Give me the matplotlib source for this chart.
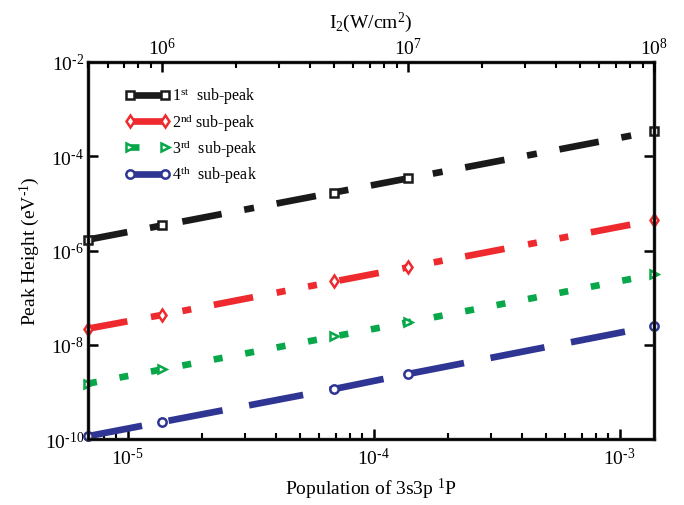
import numpy as np
import matplotlib
matplotlib.use("Agg")
import matplotlib.pyplot as plt

plt.rcParams['font.family'] = ['Liberation Serif', 'DejaVu Serif']
plt.rcParams['mathtext.fontset'] = 'custom'
plt.rcParams['mathtext.rm'] = 'Liberation Serif'
plt.rcParams['mathtext.it'] = 'Liberation Serif:italic'
plt.rcParams['lines.scale_dashes'] = False

# intensity I2 (W/cm^2) and matching population of 3s3p 1P
intensity = [5e5, 1e6, 5e6, 1e7, 1e8]
population = [6.9e-6, 1.38e-5, 6.9e-5, 1.38e-4, 1.38e-3]

peak_1st = [1.7e-6, 3.4e-6, 1.7e-5, 3.4e-5, 3.4e-4]
peak_2nd = [2.2e-8, 4.3e-8, 2.2e-7, 4.4e-7, 4.4e-6]
peak_3rd = [1.5e-9, 3.0e-9, 1.5e-8, 3.0e-8, 3.1e-7]
peak_4th = [1.15e-10, 2.3e-10, 1.15e-9, 2.4e-9, 2.5e-8]

labels = ['1$^{\\mathregular{st}}$  sub-peak', '2$^{\\mathregular{nd}}$ sub-peak',
          '3$^{\\mathregular{rd}}$  sub-peak', '4$^{\\mathregular{th}}$  sub-peak']


def pow10(k):
    # hyphen instead of the math minus, like the original figure
    return '10$^{\\mathregular{\\text{%s}}}$' % k


px = 0.72
fig = plt.figure(figsize=(6.84, 5.06), dpi=100)
ax = fig.add_axes([0.1287, 0.1304, 0.8275, 0.7451])

series = [
    (peak_1st, '#1a1a1a', 's', [40, 23, 10, 23]),
    (peak_2nd, '#ee2a2e', 'd', [40, 24, 9, 23, 9, 23]),
    (peak_3rd, '#08a84a', '>', [9, 23]),
    (peak_4th, '#2e3593', 'o', [55, 27]),
]
for (vals, col, mk, dash), lab in zip(series, labels):
    ax.plot(population, vals, color=col, lw=4.8, dashes=[d * px for d in dash],
            dash_capstyle='butt', marker=mk, ms=6, mfc='white', mec=col, mew=1.8,
            clip_on=False, label=lab)

ax.set_xscale('log')
ax.set_yscale('log')
ax.set_xlim(6.9e-6, 1.38e-3)
ax.set_ylim(1e-10, 1e-2)
ax.set_yticks([1e-10, 1e-8, 1e-6, 1e-4, 1e-2])
ax.yaxis.set_minor_locator(matplotlib.ticker.NullLocator())
ax.set_yticklabels([pow10(k) for k in ['-10', '-8', '-6', '-4', '-2']], fontsize=14)
ax.set_xticks([1e-5, 1e-4, 1e-3])
ax.set_xticklabels([pow10(k) for k in ['-5', '-4', '-3']], fontsize=14)
ax.tick_params(which='major', direction='in', length=7, width=1.8, right=True, pad=6)
ax.tick_params(which='minor', direction='in', length=4, width=1.5)
ax.tick_params(axis='y', pad=3)
for s in ax.spines.values():
    s.set_linewidth(2.4)
    s.set_color('#1a1a1a')

ax.set_xlabel('Population of 3s3p $^{\\mathregular{1}}$P', fontsize=14, labelpad=5)
ax.set_ylabel('Peak Height (eV$^{\\mathregular{\\text{-1}}}$)', fontsize=14, labelpad=2)

top = ax.twiny()
top.set_xscale('log')
top.set_xlim(5e5, 1e8)
top.set_xticks([1e6, 1e7, 1e8])
top.set_xticklabels([pow10(k) for k in ['6', '7', '8']], fontsize=14)
top.tick_params(which='major', direction='in', length=7, width=1.8, pad=3)
top.tick_params(which='minor', direction='in', length=4, width=1.5)
top.set_xlabel('I$_{\\mathregular{2}}$(W/cm$^{\\mathregular{2}}$)', fontsize=14, labelpad=7)

ax.legend(loc='upper left', bbox_to_anchor=(0.04, 0.975), frameon=False, fontsize=11.5,
          handlelength=2.8, numpoints=2, labelspacing=0.27, handletextpad=0.15)

fig.savefig('out.png', dpi=100)
